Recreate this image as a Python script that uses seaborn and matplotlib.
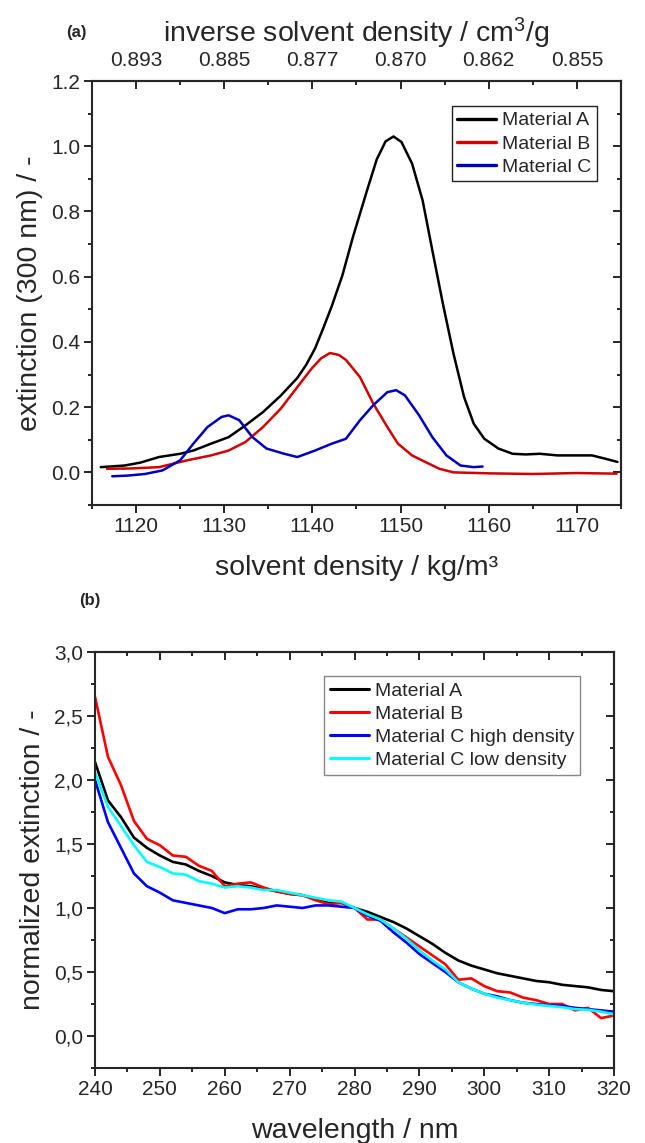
"""Extinction profiles vs. solvent density (a) and normalized spectra (b)."""

import matplotlib
matplotlib.use("Agg")
import numpy as np
import pandas as pd
import matplotlib.pyplot as plt
import seaborn as sns
from matplotlib.ticker import MultipleLocator, FuncFormatter

# ---- panel (a): extinction at 300 nm over the density gradient ----
A_X = [1116.0, 1118.7, 1120.5, 1122.6, 1125.0, 1126.5, 1128.5, 1130.5, 1132.4, 1134.4,
       1136.4, 1138.3, 1139.3, 1140.3, 1141.2, 1142.2, 1143.4, 1144.6, 1146.2, 1147.3,
       1148.3, 1149.2, 1150.1, 1151.3, 1152.5, 1153.6, 1154.8, 1156.0, 1157.2, 1158.3,
       1159.5, 1161.1, 1162.7, 1164.2, 1165.8, 1167.8, 1169.7, 1171.7, 1173.2, 1174.6]
A_Y = [0.016, 0.021, 0.030, 0.047, 0.057, 0.067, 0.088, 0.108, 0.144, 0.185,
       0.235, 0.290, 0.330, 0.380, 0.440, 0.510, 0.604, 0.722, 0.865, 0.960,
       1.015, 1.030, 1.013, 0.947, 0.834, 0.681, 0.517, 0.364, 0.231, 0.149,
       0.103, 0.073, 0.057, 0.055, 0.057, 0.052, 0.052, 0.052, 0.042, 0.032]

B_X = [1116.7, 1119.5, 1122.6, 1125.8, 1128.5, 1130.5, 1132.4, 1134.4, 1136.4, 1138.3,
       1139.9, 1141.0, 1142.0, 1143.0, 1143.8, 1145.4, 1146.9, 1148.5, 1149.7, 1151.3,
       1152.8, 1154.4, 1156.0, 1160.0, 1165.0, 1170.0, 1174.5]
B_Y = [0.011, 0.012, 0.016, 0.037, 0.052, 0.067, 0.093, 0.139, 0.195, 0.262,
       0.318, 0.350, 0.366, 0.360, 0.345, 0.292, 0.211, 0.139, 0.088, 0.052,
       0.032, 0.011, 0.000, -0.003, -0.005, -0.002, -0.004]

C_X = [1117.3, 1119.0, 1121.0, 1123.0, 1125.0, 1126.5, 1128.1, 1129.7, 1130.5, 1131.7,
       1133.2, 1134.8, 1136.8, 1138.3, 1140.3, 1142.2, 1143.8, 1145.4, 1146.9, 1148.5,
       1149.5, 1150.5, 1152.1, 1153.6, 1155.2, 1156.8, 1158.3, 1159.3]
C_Y = [-0.012, -0.010, -0.005, 0.006, 0.037, 0.088, 0.139, 0.170, 0.175, 0.160,
       0.108, 0.073, 0.057, 0.047, 0.067, 0.088, 0.103, 0.160, 0.206, 0.246,
       0.252, 0.236, 0.175, 0.108, 0.052, 0.021, 0.016, 0.018]

TOP_TICKS = [1120, 1130, 1140, 1150, 1160, 1170]
TOP_TICK_LABELS = ["0.893", "0.885", "0.877", "0.870", "0.862", "0.855"]

# ---- panel (b): normalized extinction spectra (2 nm steps) ----
WAVELENGTH = list(range(240, 321, 2))
SPEC_A = [2.14, 1.84, 1.71, 1.55, 1.47, 1.41, 1.36, 1.34, 1.29, 1.25,
          1.20, 1.18, 1.17, 1.15, 1.13, 1.11, 1.10, 1.07, 1.04, 1.04,
          1.00, 0.97, 0.93, 0.89, 0.84, 0.78, 0.72, 0.65, 0.59, 0.55,
          0.52, 0.49, 0.47, 0.45, 0.43, 0.42, 0.40, 0.39, 0.38, 0.36, 0.35]
SPEC_B = [2.65, 2.18, 1.96, 1.68, 1.54, 1.49, 1.41, 1.40, 1.33, 1.29,
          1.17, 1.19, 1.20, 1.16, 1.13, 1.11, 1.10, 1.06, 1.03, 1.04,
          1.00, 0.91, 0.91, 0.84, 0.77, 0.70, 0.63, 0.56, 0.44, 0.45,
          0.39, 0.35, 0.34, 0.30, 0.28, 0.25, 0.25, 0.20, 0.22, 0.14, 0.16]
SPEC_C_HIGH = [2.00, 1.67, 1.47, 1.27, 1.17, 1.12, 1.06, 1.04, 1.02, 1.00,
               0.96, 0.99, 0.99, 1.00, 1.02, 1.01, 1.00, 1.02, 1.02, 1.01,
               1.00, 0.94, 0.90, 0.81, 0.73, 0.64, 0.57, 0.50, 0.42, 0.37,
               0.33, 0.31, 0.28, 0.26, 0.25, 0.24, 0.235, 0.22, 0.21, 0.20, 0.19]
SPEC_C_LOW = [2.06, 1.79, 1.64, 1.49, 1.36, 1.32, 1.27, 1.26, 1.21, 1.19,
              1.16, 1.17, 1.16, 1.14, 1.14, 1.12, 1.10, 1.08, 1.06, 1.05,
              1.00, 0.95, 0.91, 0.84, 0.76, 0.67, 0.59, 0.52, 0.42, 0.37,
              0.33, 0.30, 0.28, 0.26, 0.245, 0.235, 0.225, 0.21, 0.205, 0.19, 0.17]

TOP_NAMES = ["Material A", "Material B", "Material C"]
TOP_COLORS = ["#000000", "#d40000", "#0000c0"]
BOT_NAMES = ["Material A", "Material B", "Material C high density", "Material C low density"]
BOT_COLORS = ["#000000", "#ff0000", "#0000ff", "#00ffff"]


def long_frame(pairs, names, xname, yname):
    parts = []
    for (xs, ys), name in zip(pairs, names):
        parts.append(pd.DataFrame({xname: xs, yname: ys, "sample": name}))
    return pd.concat(parts, ignore_index=True)


def style_axes(ax, xminor, yminor):
    for sp in ax.spines.values():
        sp.set_visible(True)
        sp.set_linewidth(1.5)
    ax.xaxis.set_minor_locator(MultipleLocator(xminor))
    ax.yaxis.set_minor_locator(MultipleLocator(yminor))
    ax.tick_params(which="both", direction="out", width=1.4, labelsize=15,
                   top=False, right=False, pad=3)
    ax.tick_params(which="major", length=5.5)
    ax.tick_params(which="minor", length=3)
    # inward ticks on the opposite sides
    sec_y = ax.secondary_yaxis("right")
    sec_y.yaxis.set_minor_locator(MultipleLocator(yminor))
    sec_y.tick_params(which="both", direction="in", width=1.4, labelright=False)
    sec_y.tick_params(which="major", length=5.5)
    sec_y.tick_params(which="minor", length=3)
    sec_y.spines["right"].set_linewidth(1.5)
    sec_x = ax.secondary_xaxis("top")
    sec_x.xaxis.set_minor_locator(MultipleLocator(xminor))
    sec_x.tick_params(which="both", direction="in", width=1.4, labelsize=15, pad=8)
    sec_x.tick_params(which="major", length=5.5)
    sec_x.tick_params(which="minor", length=3)
    sec_x.spines["top"].set_linewidth(1.5)
    return sec_x, sec_y


def fix_legend(ax, anchor, edgecolor, lw):
    sns.move_legend(ax, "upper right", bbox_to_anchor=anchor, title=None,
                    frameon=True, fancybox=False, framealpha=1, edgecolor=edgecolor,
                    fontsize=14, handlelength=2.0, handletextpad=0.3,
                    labelspacing=0.28, borderpad=0.3, borderaxespad=0)
    leg = ax.get_legend()
    leg.get_frame().set_linewidth(1.0)
    for line in leg.get_lines():
        line.set_linewidth(lw)


sns.set_theme(style="ticks")
plt.rcParams["font.family"] = ["Liberation Sans", "DejaVu Sans"]
plt.rcParams["mathtext.fontset"] = "custom"
plt.rcParams["mathtext.rm"] = "Liberation Sans"
plt.rcParams["mathtext.it"] = "Liberation Sans"

fig = plt.figure(figsize=(6.45, 11.43), dpi=100)
ax_a = fig.add_axes([0.1426, 0.5582, 0.8202, 0.3709])
ax_b = fig.add_axes([0.1473, 0.0656, 0.8047, 0.3640])

# panel (a)
df_a = long_frame([(A_X, A_Y), (B_X, B_Y), (C_X, C_Y)], TOP_NAMES, "density", "ext")
sns.lineplot(data=df_a, x="density", y="ext", hue="sample", hue_order=TOP_NAMES,
             palette=TOP_COLORS, sort=False, estimator=None, linewidth=1.8, ax=ax_a)
ax_a.set_xlim(1115, 1175)
ax_a.set_ylim(-0.1, 1.2)
ax_a.xaxis.set_major_locator(MultipleLocator(10))
ax_a.yaxis.set_major_locator(MultipleLocator(0.2))
ax_a.yaxis.set_major_formatter(FuncFormatter(lambda v, _: f"{v:.1f}"))
top_a, _ = style_axes(ax_a, 5, 0.1)
top_a.set_xticks(TOP_TICKS, TOP_TICK_LABELS)
top_a.set_xlabel("inverse solvent density / cm$^3$/g", fontsize=20.5, labelpad=6)
ax_a.set_xlabel("solvent density / kg/m³", fontsize=20.5, labelpad=14)
ax_a.set_ylabel("extinction (300 nm) / -", fontsize=20.5, labelpad=6)
fix_legend(ax_a, (0.955, 0.941), "#222222", 2.4)

# panel (b)
df_b = long_frame([(WAVELENGTH, SPEC_A), (WAVELENGTH, SPEC_B),
                   (WAVELENGTH, SPEC_C_HIGH), (WAVELENGTH, SPEC_C_LOW)],
                  BOT_NAMES, "wl", "norm")
sns.lineplot(data=df_b, x="wl", y="norm", hue="sample", hue_order=BOT_NAMES,
             palette=BOT_COLORS, sort=False, estimator=None, linewidth=1.9, ax=ax_b)
ax_b.set_xlim(240, 320)
ax_b.set_ylim(-0.25, 3.0)
ax_b.xaxis.set_major_locator(MultipleLocator(10))
ax_b.yaxis.set_major_locator(MultipleLocator(0.5))
ax_b.yaxis.set_major_formatter(FuncFormatter(lambda v, _: f"{v:.1f}".replace(".", ",")))
top_b, _ = style_axes(ax_b, 5, 0.25)
top_b.tick_params(labeltop=False)
ax_b.set_xlabel("wavelength / nm", fontsize=20.5, labelpad=14)
ax_b.set_ylabel("normalized extinction / -", fontsize=20.5, labelpad=6)
fix_legend(ax_b, (0.934, 0.942), "#888888", 2.2)

fig.text(0.119, 0.972, "(a)", fontsize=12, fontweight="bold", ha="center", va="center")
fig.text(0.14, 0.475, "(b)", fontsize=12, fontweight="bold", ha="center", va="center")

fig.savefig("out.png", dpi=100)
